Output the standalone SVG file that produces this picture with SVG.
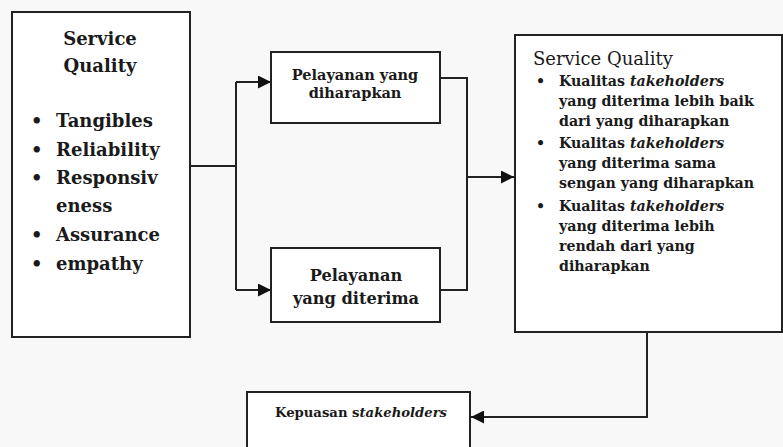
<svg xmlns="http://www.w3.org/2000/svg" width="783" height="447" viewBox="0 0 783 447">
<defs>
<style>
.box{fill:#fff;stroke:#222;stroke-width:2}
.ln{fill:none;stroke:#222;stroke-width:2}
text{font-family:"DejaVu Serif","Liberation Serif",serif;font-weight:bold;fill:#1a1a1a}
.big{font-size:18px}
.mid{font-size:14.2px}
.it{font-style:italic}
</style>
<marker id="ah" viewBox="0 0 10 10" refX="10" refY="5" markerWidth="13" markerHeight="13" markerUnits="userSpaceOnUse" orient="auto">
<path d="M0,0 L10,5 L0,10 z" fill="#111"/>
</marker>
</defs>
<rect width="783" height="447" fill="#f8f8f8"/>
<g id="connectors">
<path class="ln" d="M190,166 H236 M236,82 V290"/>
<path class="ln" d="M236,82 H271" marker-end="url(#ah)"/>
<path class="ln" d="M236,290 H271" marker-end="url(#ah)"/>
<path class="ln" d="M440,78 H467 V290 H440"/>
<path class="ln" d="M467,177 H514" marker-end="url(#ah)"/>
<path class="ln" d="M647,333 V417 H471" marker-end="url(#ah)"/>
</g>
<g id="service-quality-dims">
<rect class="box" x="12" y="12" width="178" height="325"/>
<text class="big" x="100" y="45" text-anchor="middle">Service</text>
<text class="big" x="100" y="72" text-anchor="middle">Quality</text>
<text class="big" x="31" y="127">•</text><text class="big" x="56" y="127">Tangibles</text>
<text class="big" x="31" y="156">•</text><text class="big" x="56" y="156">Reliability</text>
<text class="big" x="31" y="184">•</text><text class="big" x="56" y="184">Responsiv</text>
<text class="big" x="56" y="212">eness</text>
<text class="big" x="31" y="241">•</text><text class="big" x="56" y="241">Assurance</text>
<text class="big" x="31" y="270">•</text><text class="big" x="56" y="270">empathy</text>
</g>
<g id="pelayanan-diharapkan">
<rect class="box" x="271" y="52" width="169" height="71"/>
<text x="355" y="80" text-anchor="middle" style="font-size:14.5px">Pelayanan yang</text>
<text x="355" y="98" text-anchor="middle" style="font-size:14.5px">diharapkan</text>
</g>
<g id="pelayanan-diterima">
<rect class="box" x="271" y="248" width="169" height="74"/>
<text x="356" y="281" text-anchor="middle" style="font-size:16.2px">Pelayanan</text>
<text x="356" y="304" text-anchor="middle" style="font-size:16.2px">yang diterima</text>
</g>
<g id="service-quality-result">
<rect class="box" x="515" y="35" width="267" height="297"/>
<text x="533" y="65" style="font-size:18px;font-weight:normal">Service Quality</text>
<g class="mid">
<text x="536" y="86">•</text><text x="559" y="86">Kualitas <tspan class="it">takeholders</tspan></text>
<text x="559" y="106">yang diterima lebih baik</text>
<text x="559" y="126">dari yang diharapkan</text>
<text x="536" y="148">•</text><text x="559" y="148">Kualitas <tspan class="it">takeholders</tspan></text>
<text x="559" y="168">yang diterima sama</text>
<text x="559" y="188">sengan yang diharapkan</text>
<text x="536" y="211">•</text><text x="559" y="211">Kualitas <tspan class="it">takeholders</tspan></text>
<text x="559" y="231">yang diterima lebih</text>
<text x="559" y="251">rendah dari yang</text>
<text x="559" y="271">diharapkan</text>
</g>
</g>
<g id="kepuasan">
<rect class="box" x="247" y="392" width="223" height="60"/>
<text x="275" y="417" style="font-size:13.2px">Kepuasan s<tspan class="it">takeholders</tspan></text>
</g>
</svg>
